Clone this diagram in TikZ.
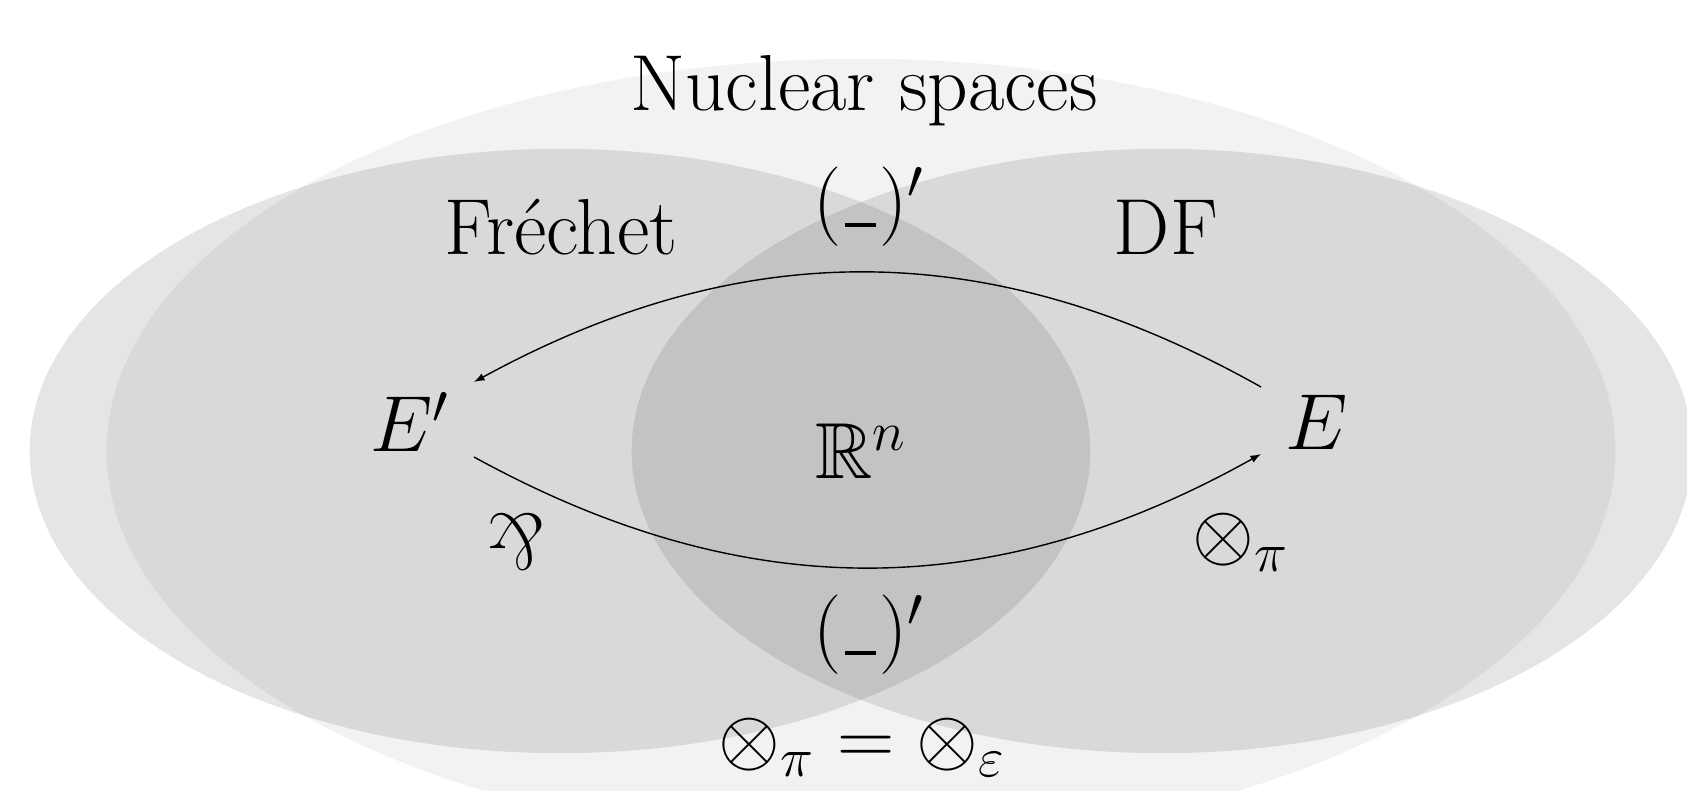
\documentclass[tikz,border=0pt]{standalone}
\usepackage{fix-cm}
\usepackage{amssymb}
\usepackage{graphicx}
\usetikzlibrary{calc,arrows.meta}
\begin{document}
\begin{tikzpicture}[x=0.01cm,y=0.01cm,
  lbl/.style={font=\fontsize{22.6}{27}\selectfont, inner sep=0pt},
  arr/.style={line width=0.4pt, -{Latex[length=3pt,width=2.2pt]}},
  zone/.style={fill=black, fill opacity=#1}]
\useasboundingbox (0,0) rectangle (1687,791);
\fill[zone=0.05] (861,340) ellipse [x radius=7.54cm, y radius=3.92cm];
\fill[zone=0.1] (560,340) ellipse [x radius=5.30cm, y radius=3.02cm];
\fill[zone=0.1] (1162,340) ellipse [x radius=5.30cm, y radius=3.02cm];
\node[lbl, anchor=base] (nuc) at (864,680) {Nuclear spaces};
\node[lbl, anchor=base] (fre) at (561,536) {Fréchet};
\node[lbl, anchor=base] (df) at (1166,536) {DF};
\node[lbl, anchor=base] (dualtop) at (869,564) {$(\kern0.04em\rule{0.4em}{0.05em}\kern0.04em)'$};
\node[lbl, anchor=base] (dualbot) at (869,136) {$(\kern0.04em\rule{0.4em}{0.05em}\kern0.04em)'$};
\node[lbl, anchor=base] (Ep) at (410,339) {$E'$};
\node[lbl, anchor=base] (E) at (1317,341) {$E$};
\node[lbl, anchor=base] (Rn) at (861,312) {$\mathbb{R}^n$};
\node[lbl] (parr) at (516,249) {\rotatebox[origin=c]{180}{\&}};
\node[lbl, anchor=base] (tpi) at (1241,231) {$\otimes_\pi$};
\node[lbl, anchor=base] (eq) at (862,26) {$\otimes_\pi=\otimes_\varepsilon$};
\draw[arr] ($(E.base)+(-56,63)$) to[bend right=29] ($(Ep.base)+(64,70)$);
\draw[arr] ($(Ep.base)+(64,-5)$) to[bend right=29] ($(E.base)+(-56,-4)$);
\end{tikzpicture}
\end{document}
